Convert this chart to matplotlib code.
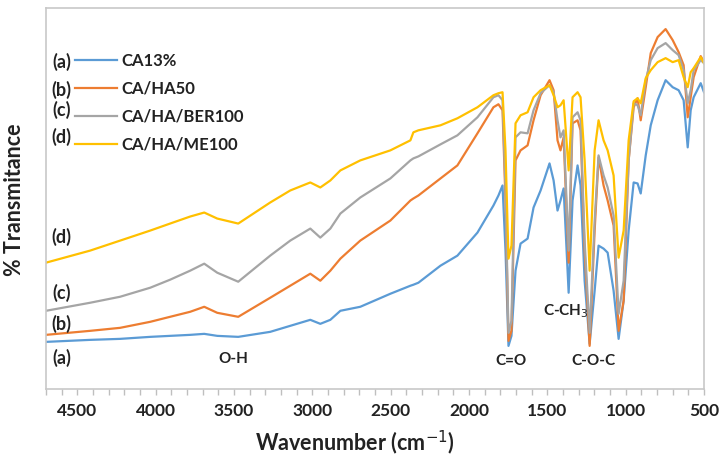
import matplotlib.pyplot as plt

plt.rcParams['font.family'] = ['Lato', 'DejaVu Sans']

wavenumber = [4700, 4419, 4227, 4035, 3908, 3780, 3690, 3607, 3473, 3269,
              3141, 3013, 2949, 2885, 2821, 2694, 2502, 2374, 2355, 2323,
              2182, 2074, 1946, 1844, 1812, 1786, 1767, 1748, 1729, 1703,
              1671, 1626, 1588, 1543, 1486, 1460, 1435, 1416, 1396, 1364,
              1339, 1307, 1288, 1262, 1230, 1198, 1173, 1141, 1115, 1077,
              1045, 1013, 981, 949, 924, 904, 872, 840, 796, 745,
              700, 662, 630, 604, 585, 566, 521, 500]

ca13 = [47, 49, 50, 52, 53, 54, 55, 53, 52, 57,
        63, 69, 65, 69, 78, 82, 95, 103, 104, 106,
        123, 133, 156, 183, 193, 203, 138, 43, 53, 118,
        145, 150, 181, 198, 225, 208, 178, 188, 200, 96,
        188, 223, 203, 108, 45, 98, 143, 140, 136, 98,
        50, 88, 158, 206, 205, 195, 233, 263, 288, 308,
        301, 298, 288, 241, 278, 291, 305, 296]

ca_ha50 = [54, 58, 61, 67, 72, 77, 82, 76, 72, 91,
           103, 115, 108, 118, 130, 148, 168, 188, 190, 193,
           210, 223, 255, 281, 284, 278, 188, 48, 58, 228,
           238, 243, 268, 293, 308, 298, 248, 238, 251, 126,
           265, 268, 258, 138, 43, 158, 231, 203, 188, 163,
           58, 88, 228, 281, 290, 268, 301, 335, 351, 359,
           348, 336, 323, 271, 291, 311, 332, 326]

ca_ha_ber100 = [78, 86, 92, 101, 109, 118, 125, 116, 107, 133,
                148, 160, 151, 160, 175, 191, 210, 228, 230, 232,
                244, 253, 271, 291, 293, 288, 198, 56, 68, 251,
                256, 255, 278, 295, 303, 296, 268, 251, 258, 138,
                271, 276, 268, 148, 56, 168, 233, 213, 201, 173,
                75, 108, 228, 285, 283, 273, 308, 328, 340, 345,
                338, 333, 318, 285, 298, 318, 328, 325]

ca_ha_me100 = [126, 138, 148, 158, 165, 172, 176, 170, 165, 186,
               198, 206, 201, 208, 218, 228, 238, 248, 256, 258,
               263, 270, 281, 293, 295, 296, 238, 130, 143, 265,
               273, 276, 291, 298, 303, 293, 281, 283, 288, 218,
               291, 296, 291, 228, 118, 238, 268, 248, 238, 213,
               131, 158, 248, 287, 290, 285, 310, 318, 326, 330,
               326, 328, 311, 301, 316, 320, 331, 325]

series = [ca13, ca_ha50, ca_ha_ber100, ca_ha_me100]
names = ['CA13%', 'CA/HA50', 'CA/HA/BER100', 'CA/HA/ME100']
tags = ['(a)', '(b)', '(c)', '(d)']
colors = ['#5B9BD5', '#ED7D31', '#A5A5A5', '#FFC000']

# band labels and where they sit
bands = ['O-H', 'C=O', 'C-CH$_3$', 'C-O-C']
band_x = [3505, 1735, 1385, 1205]
band_y = [30, 28, 78, 28]

# (a)..(d) next to the curves on the left
tag_y = [31, 65, 96, 152]

fig = plt.figure(figsize=(7.25, 4.67), dpi=100)
ax = fig.add_axes([46 / 725, 1 - 389 / 467, 658 / 725, 381 / 467])

lines = []
for vals, name, col in zip(series, names, colors):
    l, = ax.plot(wavenumber, vals, color=col, lw=1.6, label=name)
    lines.append(l)

ax.set_xlim(4700, 500)
ax.set_ylim(0, 380)
ax.set_xticks(range(4500, 499, -500))
ax.set_xticks(range(4700, 499, -100), minor=True)
ax.set_yticks([])
ax.tick_params(axis='x', which='both', direction='out', length=4, color='#BFBFBF',
               width=1)
ax.tick_params(axis='x', which='major', labelsize=12.5, pad=6)
for lab in ax.get_xticklabels():
    lab.set_fontweight('bold')
    lab.set_color('#222222')
for s in ax.spines.values():
    s.set_color('#C8C8C8')
    s.set_linewidth(1.2)

leg = ax.legend(handles=lines, loc='upper left', bbox_to_anchor=(0.022, 0.922),
                frameon=False, handlelength=2.5, handletextpad=0.25,
                labelspacing=0.72, prop={'size': 12, 'weight': 'bold'})
for t in leg.get_texts():
    t.set_color('#222222')

# legend tags (a)..(d)
leg_tag_y = [326, 298, 278, 251]
for tg, yy in zip(tags, leg_tag_y):
    ax.text(4600, yy, tg, fontsize=13, fontweight='bold', color='#222222',
            ha='center', va='center')

for tg, yy in zip(tags, tag_y):
    ax.text(4600, yy, tg, fontsize=13, fontweight='bold', color='#222222',
            ha='center', va='center')

for b, bx, by in zip(bands, band_x, band_y):
    ax.text(bx, by, b, fontsize=11, fontweight='bold', color='#222222',
            ha='center', va='center')

fig.text(355 / 725, 1 - 443 / 467, 'Wavenumber (cm$^{-1}$)', fontsize=15.5,
         fontweight='bold', ha='center', va='center', color='#222222')
fig.text(15 / 725, 1 - 200 / 467, '% Transmitance', fontsize=15.5,
         fontweight='bold', ha='center', va='center', rotation=90, color='#222222')

fig.savefig('out.png', dpi=100)
